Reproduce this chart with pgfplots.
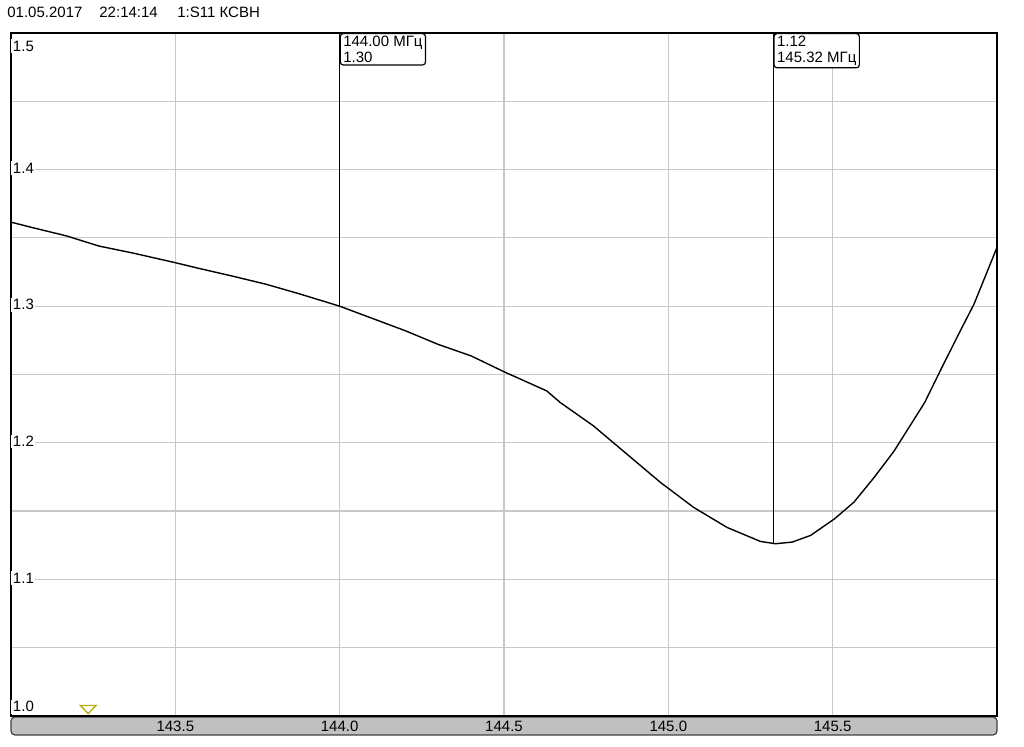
\documentclass[border=0pt]{standalone}
\usepackage{pgfplots}
\pgfplotsset{compat=1.18}
\usepackage{fontspec}
\setmainfont{Liberation Sans}
\definecolor{gridgray}{RGB}{200,200,200}
\definecolor{bargray}{RGB}{192,192,192}
\definecolor{trimark}{RGB}{185,175,20}
\newcommand\f{\fontsize{7.5}{8}\selectfont}
\begin{document}
\begin{tikzpicture}
\path[use as bounding box] (0,0) rectangle (512pt,373.5pt);
\node[anchor=base west, inner sep=0pt, font=\f] at (3.5pt,364.5pt) {01.05.2017};
\node[anchor=base west, inner sep=0pt, font=\f] at (49.5pt,364.5pt) {22:14:14};
\node[anchor=base west, inner sep=0pt, font=\f] at (88.5pt,364.5pt) {1:S11 КСВН};
\draw[fill=bargray, draw=black!75, line width=0.6pt, rounded corners=2pt] (5.5pt,6pt) rectangle (498.5pt,15pt);
\begin{axis}[
  at={(5.5pt,15.5pt)}, anchor=south west,
  scale only axis, width=493pt, height=341.5pt,
  xmin=143, xmax=146, ymin=1, ymax=1.5,
  xtick={143.5,144,144.5,145,145.5},
  xticklabels={143.5,144.0,144.5,145.0,145.5},
  ytick={1,1.05,1.1,1.15,1.2,1.25,1.3,1.35,1.4,1.45,1.5},
  yticklabels={,,,,,,,,,,},
  grid=major,
  major grid style={gridgray, line width=0.6pt},
  major tick length=0pt,
  xticklabel style={anchor=center, yshift=-5pt, font=\f},
  axis line style={black, line width=0.9pt},
  clip=false,
]
\addplot[black, line width=0.7pt] coordinates {
(143.000,1.3615) (143.064,1.3576) (143.168,1.3515) (143.268,1.3440)
(143.369,1.3390) (143.497,1.3320) (143.573,1.3276) (143.674,1.3220)
(143.777,1.3160) (143.878,1.3090) (144.000,1.3000) (144.100,1.2910)
(144.200,1.2820) (144.300,1.2720) (144.400,1.2636) (144.500,1.2520)
(144.630,1.2380) (144.671,1.2295) (144.772,1.2124) (144.874,1.1917)
(144.976,1.1710) (145.077,1.1527) (145.179,1.1380) (145.280,1.1278)
(145.326,1.1261) (145.377,1.1273) (145.433,1.1322) (145.506,1.1444)
(145.565,1.1566) (145.626,1.1746) (145.687,1.1940) (145.748,1.2173)
(145.780,1.2295) (145.830,1.2540) (145.880,1.2780) (145.930,1.3015)
(146.000,1.3430)
};
\addplot[black, line width=0.7pt] coordinates {(144,1.30) (144,1.5)};
\addplot[black, line width=0.7pt] coordinates {(145.32,1.1262) (145.32,1.5)};
\addplot[only marks, mark=triangle, color=trimark, mark size=3pt,
  mark options={rotate=180, xscale=1.5, yscale=0.9, line width=0.7pt}]
  coordinates {(143.235,1.0057)};
\node[draw, rounded corners=1.5pt, fill=white, anchor=north west, align=left,
  font=\f, inner xsep=1.5pt, inner ysep=1.2pt, line width=0.6pt]
  at (axis cs:144,1.5) {144.00 МГц\\1.30};
\node[draw, rounded corners=1.5pt, fill=white, anchor=north west, align=left,
  font=\f, inner xsep=1.5pt, inner ysep=1.2pt, line width=0.6pt]
  at (axis cs:145.32,1.5) {1.12\\145.32 МГц};
\node[anchor=north west, fill=white, inner sep=0.8pt, font=\f, yshift=-3pt] at (axis cs:143,1.5) {1.5};
\node[anchor=west, fill=white, inner sep=0.8pt, font=\f, yshift=0.7pt] at (axis cs:143,1.4) {1.4};
\node[anchor=west, fill=white, inner sep=0.8pt, font=\f, yshift=0.7pt] at (axis cs:143,1.3) {1.3};
\node[anchor=west, fill=white, inner sep=0.8pt, font=\f, yshift=0.7pt] at (axis cs:143,1.2) {1.2};
\node[anchor=west, fill=white, inner sep=0.8pt, font=\f, yshift=0.7pt] at (axis cs:143,1.1) {1.1};
\node[anchor=south west, fill=white, inner sep=0.8pt, font=\f, yshift=1pt] at (axis cs:143,1.0) {1.0};
\end{axis}
\end{tikzpicture}
\end{document}
